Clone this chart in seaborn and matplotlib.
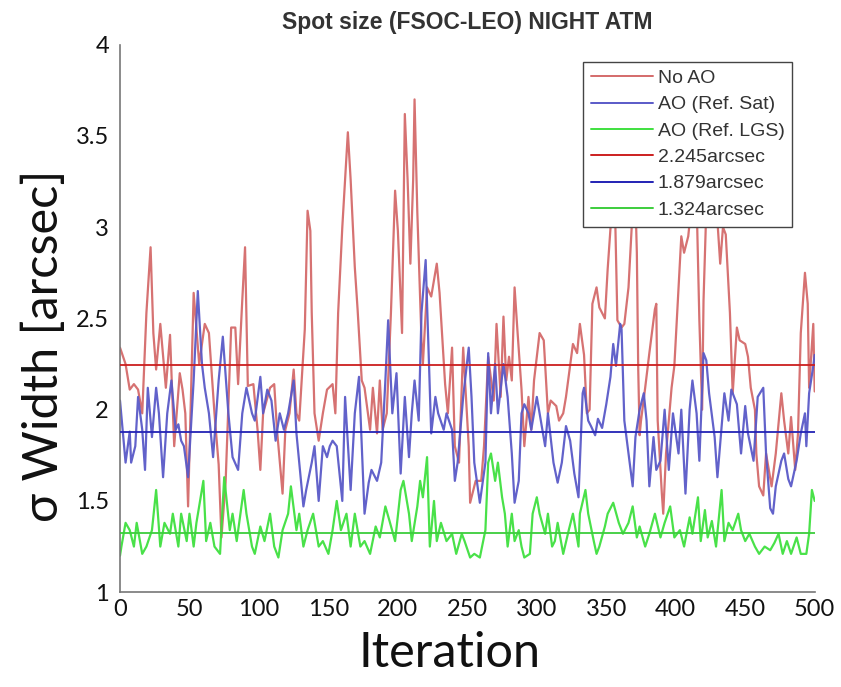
import matplotlib
matplotlib.use("Agg")
import matplotlib.pyplot as plt
import seaborn as sns
import pandas as pd
from matplotlib.lines import Line2D

# ---------------- data ----------------
red_iter = [0, 4, 7, 10, 13, 16, 19, 22, 24, 26, 29, 33, 36, 39, 43, 45, 47, 49, 53, 57, 61, 64, 68, 71, 73, 76,
            80, 83, 85, 88, 90, 92, 96, 99, 101, 103, 108, 111, 113, 117, 119, 122, 125, 127, 129, 133, 135, 137,
            138, 140, 143, 146, 149, 153, 155, 157, 160, 164, 166, 169, 171, 174, 176, 180, 182, 185, 187, 189,
            192, 195, 198, 200, 203, 205, 207, 209, 211, 212, 214, 217, 218, 221, 224, 228, 230, 234, 236, 239,
            241, 244, 247, 249, 251, 252, 256, 260, 262, 265, 269, 271, 274, 276, 278, 280, 282, 284, 286, 289,
            291, 294, 296, 298, 302, 305, 308, 310, 314, 316, 319, 321, 326, 329, 331, 334, 336, 338, 340, 343,
            345, 349, 351, 354, 356, 358, 361, 363, 366, 369, 371, 372, 373, 374, 375, 378, 381, 385, 386, 387,
            390, 391, 393, 397, 399, 402, 404, 406, 409, 411, 413, 415, 417, 419, 420, 422, 424, 427, 429, 432,
            434, 436, 439, 441, 444, 446, 450, 452, 454, 457, 458, 460, 463, 465, 469, 472, 476, 478, 481, 483,
            486, 488, 490, 493, 495, 496, 499, 500]
red_val = [2.34, 2.25, 2.11, 2.14, 2.11, 1.98, 2.53, 2.89, 2.42, 2.22, 2.47, 2.12, 2.41, 1.80, 2.20, 2.11, 1.98,
           1.47, 2.64, 2.25, 2.47, 2.42, 1.98, 1.70, 1.30, 1.60, 2.45, 2.45, 2.14, 2.60, 2.89, 2.13, 2.14, 1.89,
           1.67, 1.98, 2.12, 2.14, 1.89, 1.54, 1.89, 1.98, 2.22, 1.98, 1.94, 2.44, 3.09, 2.98, 2.53, 1.98, 1.83,
           1.98, 2.11, 2.14, 1.98, 2.53, 3.00, 3.52, 3.26, 2.78, 2.55, 2.16, 2.12, 1.89, 2.12, 1.87, 2.16, 1.89,
           1.98, 2.53, 3.20, 2.98, 2.42, 3.62, 3.26, 2.80, 3.26, 3.70, 3.08, 2.38, 2.25, 2.67, 2.62, 2.80, 2.64,
           2.14, 1.98, 2.34, 1.80, 1.71, 2.34, 2.07, 1.80, 1.49, 1.61, 1.61, 1.80, 2.29, 2.05, 2.47, 2.07, 2.51,
           2.16, 2.29, 2.16, 2.67, 2.44, 2.11, 1.80, 2.07, 1.89, 2.16, 2.42, 2.38, 1.98, 2.05, 2.02, 1.94, 1.98,
           2.07, 2.36, 2.31, 2.47, 2.30, 1.98, 2.00, 2.58, 2.67, 2.56, 2.50, 2.77, 3.10, 3.20, 2.49, 2.45, 2.47,
           2.67, 3.10, 3.15, 2.86, 2.22, 1.86, 1.94, 2.12, 2.31, 2.55, 2.58, 1.94, 1.54, 1.43, 1.76, 2.12, 2.24,
           2.67, 2.95, 2.86, 2.95, 3.10, 3.20, 3.15, 2.49, 2.00, 2.60, 3.10, 3.25, 3.30, 3.15, 2.80, 3.00, 2.96,
           2.53, 2.09, 2.45, 2.38, 2.36, 2.29, 2.12, 2.00, 1.76, 1.58, 1.53, 1.76, 1.58, 1.76, 2.09, 1.94, 1.76,
           1.96, 1.67, 1.87, 2.42, 2.75, 2.58, 2.12, 2.47, 2.10]

blue_iter = [0, 4, 7, 8, 11, 13, 16, 18, 20, 23, 26, 28, 31, 34, 37, 40, 42, 44, 46, 49, 53, 56, 59, 61, 64, 67,
             71, 74, 78, 81, 85, 88, 91, 95, 97, 101, 103, 106, 109, 112, 115, 118, 121, 125, 127, 129, 132, 134,
             138, 140, 143, 146, 149, 151, 153, 156, 160, 162, 166, 169, 172, 174, 176, 179, 181, 185, 188, 191,
             193, 196, 199, 202, 205, 208, 210, 212, 215, 217, 220, 222, 224, 227, 229, 233, 235, 239, 241, 243,
             247, 251, 253, 255, 259, 263, 265, 267, 270, 272, 276, 279, 282, 284, 287, 289, 291, 294, 296, 300,
             302, 306, 308, 312, 315, 318, 321, 324, 327, 330, 333, 334, 337, 339, 342, 344, 347, 350, 353, 355,
             357, 360, 361, 363, 366, 369, 371, 374, 377, 379, 381, 384, 386, 389, 392, 395, 398, 402, 404, 407,
             410, 412, 415, 417, 420, 422, 424, 428, 430, 433, 435, 438, 440, 444, 447, 450, 452, 456, 459, 463,
             465, 468, 470, 472, 476, 478, 481, 483, 487, 490, 493, 494, 496, 499, 500]
blue_val = [2.05, 1.71, 1.88, 1.71, 1.80, 2.07, 1.89, 1.67, 2.12, 1.85, 2.12, 1.98, 1.63, 1.98, 2.16, 1.89, 1.92,
            1.83, 1.80, 1.63, 2.16, 2.65, 2.25, 2.12, 1.98, 1.74, 2.16, 2.40, 1.98, 1.74, 1.67, 1.98, 2.12, 1.98,
            1.94, 2.18, 1.98, 2.11, 2.05, 1.83, 1.98, 1.89, 1.98, 2.16, 1.87, 1.71, 1.47, 1.56, 1.71, 1.80, 1.50,
            1.80, 1.74, 1.80, 1.83, 1.80, 1.50, 2.07, 1.56, 1.98, 2.18, 1.80, 1.43, 1.60, 1.67, 1.61, 1.71, 2.16,
            2.49, 1.98, 2.20, 1.65, 2.07, 1.74, 1.98, 2.16, 1.94, 2.53, 2.82, 2.34, 1.87, 2.07, 1.98, 1.89, 1.98,
            1.89, 1.61, 1.71, 2.07, 2.34, 2.07, 1.71, 1.49, 1.71, 2.31, 1.98, 2.25, 1.98, 2.25, 2.07, 1.76, 1.49,
            1.61, 1.98, 2.03, 1.98, 1.89, 2.07, 1.98, 1.80, 1.98, 1.71, 1.60, 1.71, 1.91, 1.83, 1.65, 1.52, 2.09,
            2.12, 1.94, 1.91, 1.86, 1.95, 1.90, 2.03, 2.18, 2.36, 2.24, 2.47, 2.44, 1.94, 1.76, 1.58, 1.85, 2.00,
            2.09, 1.94, 1.58, 1.85, 1.67, 1.72, 2.00, 1.67, 1.98, 1.76, 2.00, 1.54, 2.00, 2.16, 1.98, 1.72, 2.31,
            2.27, 2.09, 1.85, 1.63, 1.91, 2.09, 1.94, 2.11, 2.03, 1.76, 2.02, 1.87, 1.72, 2.07, 2.12, 1.76, 1.46,
            1.43, 1.58, 1.72, 1.76, 1.62, 1.58, 1.72, 1.87, 1.98, 1.80, 2.09, 2.24, 2.30]

green_iter = [0, 1, 4, 7, 10, 12, 16, 19, 23, 26, 29, 32, 36, 38, 42, 44, 48, 50, 53, 55, 60, 62, 65, 68, 72, 75,
              79, 81, 84, 89, 91, 95, 97, 101, 104, 108, 111, 114, 117, 121, 123, 127, 129, 132, 135, 139, 143,
              146, 150, 153, 156, 159, 163, 166, 169, 173, 176, 180, 184, 187, 191, 194, 198, 202, 204, 208, 210,
              214, 216, 218, 221, 223, 226, 228, 231, 235, 239, 242, 246, 248, 252, 255, 259, 263, 265, 267, 270,
              272, 275, 277, 279, 282, 284, 287, 289, 291, 295, 297, 300, 302, 306, 308, 311, 313, 315, 319, 323,
              326, 330, 331, 335, 337, 341, 343, 345, 349, 351, 355, 359, 362, 366, 369, 372, 374, 378, 381, 385,
              389, 392, 396, 399, 403, 406, 410, 412, 416, 418, 421, 423, 426, 429, 433, 435, 438, 441, 445, 447,
              450, 453, 457, 460, 464, 468, 471, 474, 477, 480, 483, 487, 490, 494, 496, 498, 500]
green_val = [1.20, 1.25, 1.38, 1.34, 1.25, 1.38, 1.21, 1.25, 1.34, 1.56, 1.25, 1.38, 1.32, 1.43, 1.25, 1.43, 1.28,
             1.43, 1.25, 1.38, 1.61, 1.28, 1.38, 1.25, 1.21, 1.63, 1.34, 1.43, 1.28, 1.56, 1.43, 1.25, 1.21, 1.36,
             1.28, 1.43, 1.25, 1.19, 1.34, 1.43, 1.58, 1.34, 1.43, 1.25, 1.34, 1.43, 1.25, 1.28, 1.21, 1.34, 1.50,
             1.34, 1.43, 1.25, 1.43, 1.25, 1.28, 1.21, 1.36, 1.30, 1.47, 1.39, 1.28, 1.56, 1.61, 1.43, 1.28, 1.47,
             1.61, 1.52, 1.74, 1.25, 1.50, 1.28, 1.38, 1.28, 1.32, 1.21, 1.32, 1.28, 1.19, 1.21, 1.19, 1.34, 1.71,
             1.76, 1.61, 1.71, 1.52, 1.43, 1.25, 1.43, 1.28, 1.34, 1.25, 1.19, 1.21, 1.43, 1.52, 1.43, 1.32, 1.43,
             1.25, 1.28, 1.38, 1.21, 1.34, 1.43, 1.25, 1.43, 1.56, 1.43, 1.28, 1.21, 1.25, 1.36, 1.43, 1.49, 1.38,
             1.32, 1.38, 1.47, 1.30, 1.36, 1.25, 1.32, 1.43, 1.30, 1.38, 1.47, 1.30, 1.34, 1.25, 1.41, 1.32, 1.52,
             1.28, 1.45, 1.30, 1.39, 1.25, 1.56, 1.28, 1.38, 1.34, 1.43, 1.34, 1.28, 1.32, 1.25, 1.21, 1.25, 1.23,
             1.27, 1.32, 1.21, 1.28, 1.21, 1.30, 1.21, 1.21, 1.32, 1.56, 1.50]

series_names = ["No AO", "AO (Ref. Sat)", "AO (Ref. LGS)"]
mean_values = [2.245, 1.879, 1.324]
mean_labels = ["2.245arcsec", "1.879arcsec", "1.324arcsec"]
x_ticks = [0, 50, 100, 150, 200, 250, 300, 350, 400, 450, 500]
y_ticks = [1, 1.5, 2, 2.5, 3, 3.5, 4]
y_ticklabels = ["1", "1.5", "2", "2.5", "3", "3.5", "4"]

# ---------------- figure ----------------
sns.set_theme(style="white")
plt.rcParams["font.family"] = ["Lato", "DejaVu Sans"]

series_colors = ["#d46a6a", "#5a5ac8", "#3fe03f"]
mean_colors = ["#cc1f1f", "#2323b4", "#3ccd3c"]

df = pd.concat([
    pd.DataFrame({"Iteration": red_iter, "Width": red_val, "Series": series_names[0]}),
    pd.DataFrame({"Iteration": blue_iter, "Width": blue_val, "Series": series_names[1]}),
    pd.DataFrame({"Iteration": green_iter, "Width": green_val, "Series": series_names[2]}),
], ignore_index=True)

fig = plt.figure(figsize=(8.41, 6.87), dpi=100)
ax = fig.add_axes([0.1427, 0.138, 0.826, 0.797])

sns.lineplot(data=df, x="Iteration", y="Width", hue="Series", hue_order=series_names,
             palette=dict(zip(series_names, series_colors)), estimator=None, sort=True,
             linewidth=1.6, legend=False, ax=ax, alpha=0.95)

for m, c in zip(mean_values, mean_colors):
    ax.axhline(m, color=c, linewidth=1.3, zorder=3)

ax.set_xlim(0, 500)
ax.set_ylim(1, 4)
ax.set_xticks(x_ticks)
ax.set_xticklabels([str(t) for t in x_ticks])
ax.set_yticks(y_ticks)
ax.set_yticklabels(y_ticklabels)

for s in ["top", "right"]:
    ax.spines[s].set_visible(False)
for s in ["left", "bottom"]:
    ax.spines[s].set_color("#777777")
    ax.spines[s].set_linewidth(1.2)

ax.tick_params(axis="both", direction="in", length=4, width=1, color="#777777",
               labelsize=17, labelcolor="#111111", pad=8)
ax.tick_params(axis="x", pad=5)

ax.set_xlabel("Iteration", fontsize=35, color="#111111", labelpad=8)
ax.xaxis.set_label_coords(0.475, -0.07, transform=ax.transAxes)
ax.xaxis.label.set_verticalalignment("top")
ax.set_ylabel("σ Width [arcsec]", fontsize=35, color="#111111")
ax.yaxis.set_label_coords(-0.078, 0.45, transform=ax.transAxes)
ax.set_title("Spot size (FSOC-LEO) NIGHT ATM", fontsize=16.5, fontweight="bold",
             family=["Liberation Sans", "DejaVu Sans"], color="#333333", pad=11)

handles = [Line2D([], [], color=c, lw=1.4) for c in series_colors] + \
          [Line2D([], [], color=c, lw=1.4) for c in mean_colors]
labels = series_names + mean_labels
leg = ax.legend(handles, labels, loc="upper right", bbox_to_anchor=(0.968, 0.969),
                borderaxespad=0, fancybox=False, framealpha=1, edgecolor="#444444",
                prop={"family": ["Liberation Sans", "DejaVu Sans"], "size": 14},
                handlelength=3.2, handletextpad=0.25, labelspacing=0.45,
                borderpad=0.4)
leg.get_frame().set_linewidth(1.0)
leg.set_zorder(10)
for t in leg.get_texts():
    t.set_color("#333333")

fig.savefig("out.png", dpi=100)
